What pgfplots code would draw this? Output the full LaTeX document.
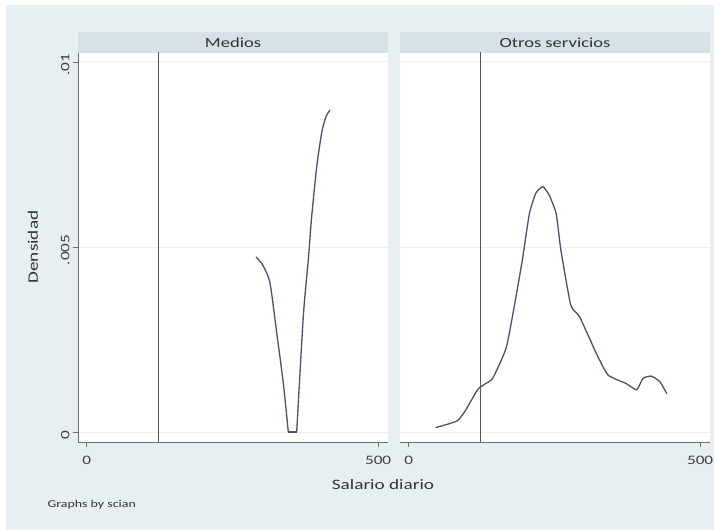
\documentclass[border=0pt]{standalone}
\usepackage{graphicx}
\usepackage{pgfplots}
\pgfplotsset{compat=1.18}
\usepackage{fontspec}
\setmainfont{Carlito}
\newcommand\sx[1]{\scalebox{1.33}[1]{#1}}
\definecolor{bgc}{RGB}{232,239,243}
\definecolor{stripc}{RGB}{214,225,231}
\definecolor{linec}{RGB}{72,82,104}
\definecolor{vlc}{RGB}{85,85,85}
\definecolor{axc}{RGB}{110,110,110}
\definecolor{gridc}{RGB}{236,240,243}
\pgfplotsset{
  panel/.style={
    scale only axis, width=310bp, height=389bp, anchor=south west,
    xmin=-15, xmax=517, ymin=-0.00027, ymax=0.01024,
    axis background/.style={fill=white},
    axis x line*=bottom, axis y line*=left,
    axis line style={axc, line width=0.8bp, -},
    tick align=outside, major tick length=5bp,
    tick style={axc, line width=0.7bp},
    xtick={0,500}, xticklabels={\sx{0},\sx{500}},
    xticklabel style={font=\fontsize{13}{14}\selectfont, text=black!75, yshift=-6bp},
    ytick={0,0.005,0.01}, scaled y ticks=false,
    ymajorgrids, grid style={gridc, line width=0.8bp},
    /pgf/number format/assume math mode=true,
    clip=true,
  }
}
\begin{document}
\begin{tikzpicture}[x=1bp,y=1bp]
\fill[white] (0,0) rectangle (726,531);
\fill[bgc] (6,1) rectangle (714,526);
% strips
\fill[stripc] (78,478) rectangle (388,499);
\fill[stripc] (400,478) rectangle (710,499);
\node[font=\fontsize{14}{15}\selectfont, text=black!80] at (233,488.5) {\sx{Medios}};
\node[font=\fontsize{14}{15}\selectfont, text=black!80] at (555,488.5) {\sx{Otros servicios}};
% left panel
\begin{axis}[panel, at={(78bp,89bp)},
  yticklabels={\sx{0},\sx{.005},\sx{.01}},
  yticklabel style={rotate=90, anchor=south, font=\fontsize{13}{14}\selectfont, text=black!75, xshift=-3bp}]
\addplot[vlc, line width=1.1bp] coordinates {(123.2,-0.001) (123.2,0.011)};
\addplot[linec, line width=1.3bp, smooth, tension=0.4] coordinates {
(290.4,0.00473) (302,0.00451) (314.4,0.00403) (326,0.00268) (337.3,0.00132) (345.9,0)};
\addplot[linec, line width=1.3bp] coordinates {(345.9,0) (360.3,0)};
\addplot[linec, line width=1.3bp, smooth, tension=0.4] coordinates {
(360.3,0) (371.6,0.00312) (380.2,0.00465) (386,0.00582) (394.7,0.00717) (403,0.00807) (410,0.00850) (417.5,0.0087)};
\end{axis}
% right panel
\begin{axis}[panel, at={(400bp,89bp)},
  yticklabels={}, y axis line style={draw=none}, ytick style={draw=none}]
\addplot[vlc, line width=1.1bp] coordinates {(122.4,-0.001) (122.4,0.011)};
\addplot[linec, line width=1.3bp, smooth, tension=0.3] coordinates {
(46,0.000117) (83,0.0003) (98,0.0006) (118,0.00114) (131,0.00130) (144,0.00145) (167,0.00226) (181,0.00339) (195,0.00465) (207,0.0059) (218,0.00645) (230,0.00663) (241,0.00640) (253,0.0059) (261,0.00492) (278,0.00343) (293,0.00312) (322,0.00212) (342,0.00154) (373,0.00131) (391,0.00114) (402,0.00145) (416,0.00151) (431,0.00136) (443,0.00103)};
\end{axis}
\node[rotate=90, font=\fontsize{14.5}{15}\selectfont, text=black!80] at (33,284) {\sx{Densidad}};
\node[font=\fontsize{14.5}{15}\selectfont, text=black!80] at (383,46) {\sx{Salario diario}};
\node[anchor=west, font=\fontsize{10.5}{11}\selectfont, text=black!80] at (44,26) {\sx{Graphs by scian}};
\end{tikzpicture}
\end{document}
